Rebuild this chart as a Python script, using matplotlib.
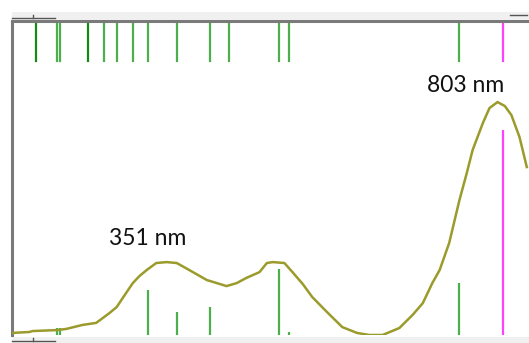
import matplotlib
matplotlib.use('Agg')
import matplotlib.pyplot as plt
from matplotlib.patches import Rectangle
import matplotlib.transforms as mtransforms

# absorption spectrum (normalised absorbance vs wavelength, nm)
wl = [141, 164, 168, 201, 214, 236, 255, 273, 283, 294, 305, 314, 324, 337, 351,
      365, 382, 406, 433, 447, 460, 478, 488, 496, 512, 523, 537, 550, 570, 591,
      611, 628, 646, 669, 687, 701, 714, 724, 737, 751, 761, 769, 783, 792, 803,
      813, 822, 833, 843]
absb = [0.009, 0.013, 0.017, 0.021, 0.026, 0.043, 0.052, 0.094, 0.120, 0.172, 0.223,
        0.253, 0.279, 0.309, 0.313, 0.309, 0.279, 0.236, 0.210, 0.223, 0.245, 0.270,
        0.309, 0.313, 0.309, 0.270, 0.219, 0.163, 0.099, 0.034, 0.009, 0.000, 0.000,
        0.030, 0.086, 0.137, 0.223, 0.279, 0.395, 0.579, 0.695, 0.794, 0.910, 0.974,
        1.000, 0.983, 0.944, 0.850, 0.721]

# computed transitions: wavelength (nm) and relative oscillator strength
trans_wl = [173, 202, 206, 244, 265, 284, 305, 326, 366, 411, 437, 504, 518, 750]
trans_f = [0.0, 0.03, 0.03, 0.0, 0.0, 0.0, 0.0, 0.193, 0.099, 0.12, 0.0, 0.283, 0.013, 0.223]
dark_wl = [173, 244]
main_wl = 811
main_f = 0.88

labels = ['351 nm', '803 nm']
label_x = [325, 760]
label_y = [0.416, 1.073]

W, H = 529, 343
fig = plt.figure(figsize=(W / 100, H / 100), dpi=100)
ax = fig.add_axes([12 / W, 8 / H, (W - 12) / W, 314 / H])
ax.set_xlim(140, 846)
ax.set_ylim(0, 1.348)

ax.plot(wl, absb, color='#9b9b2c', lw=1.8, zorder=3)

# sticks below the curve
ax.vlines(trans_wl, 0, trans_f, color='#4cae4c', lw=1.6, zorder=2)
ax.vlines(main_wl, 0, main_f, color='#ff40ff', lw=1.6, zorder=2)

# tick marks along the top
tr = mtransforms.blended_transform_factory(ax.transData, ax.transAxes)
for w in trans_wl:
    c = '#138a13' if w in dark_wl else '#4cae4c'
    ax.plot([w, w], [0.874, 0.997], color=c, lw=1.6, transform=tr)
ax.plot([main_wl, main_wl], [0.874, 0.997], color='#ff40ff', lw=1.6, transform=tr)

for t, x, y in zip(labels, label_x, label_y):
    ax.text(x, y, t, ha='center', va='center', fontsize=16.5, family='Lato',
            color='#111111')

ax.set_xticks([])
ax.set_yticks([])
for s in ['bottom', 'right']:
    ax.spines[s].set_visible(False)
for s in ['left', 'top']:
    ax.spines[s].set_color('#7a7a7a')
    ax.spines[s].set_linewidth(2.2)

# window chrome: scroll bars top and bottom
fig.patches.append(Rectangle((12 / W, (H - 20) / H), (W - 12) / W, 8 / H,
                             transform=fig.transFigure, fc='#f0f0f0', ec='none'))
fig.patches.append(Rectangle((12 / W, 0), (W - 12) / W, 6 / H,
                             transform=fig.transFigure, fc='#f0f0f0', ec='none'))
for yy in [(H - 20) / H, 0.5 / H]:
    fig.lines.append(plt.Line2D([12 / W, 55 / W], [yy + 2 / H, yy + 2 / H],
                                transform=fig.transFigure, color='#555555', lw=1))
    fig.lines.append(plt.Line2D([33 / W, 33 / W], [yy + 2 / H, yy + 5 / H],
                                transform=fig.transFigure, color='#555555', lw=1))
fig.lines.append(plt.Line2D([510 / W, 527 / W], [(H - 15) / H, (H - 15) / H],
                            transform=fig.transFigure, color='#555555', lw=1))

fig.savefig('out.png', dpi=100)
